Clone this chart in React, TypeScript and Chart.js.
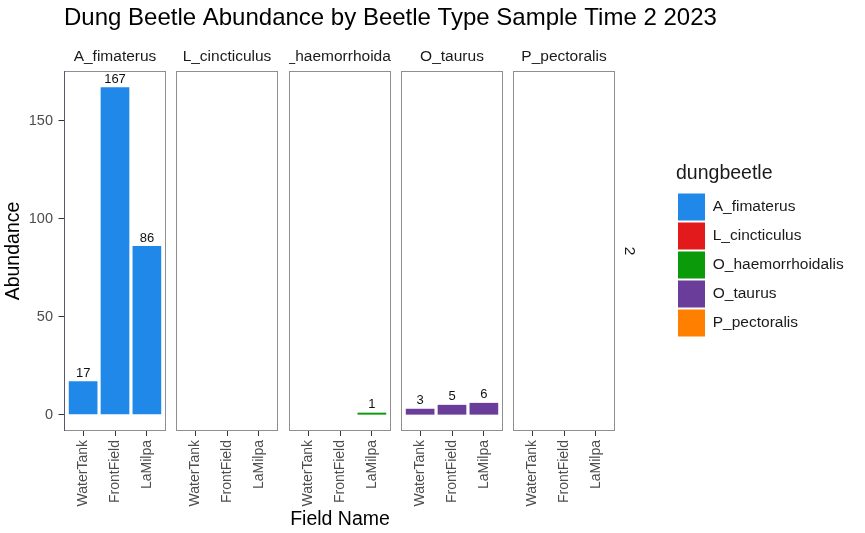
import React, { useEffect, useRef } from 'react';
import { Chart, registerables } from 'chart.js';

Chart.register(...registerables);

// ---------- data ----------
const chartTitle = 'Dung Beetle Abundance by Beetle Type Sample Time 2 2023';
const fieldNames = ['WaterTank', 'FrontField', 'LaMilpa'];
const species = ['A_fimaterus', 'L_cincticulus', 'O_haemorrhoidalis', 'O_taurus', 'P_pectoralis'];
const speciesColors = ['#1F88E8', '#E31A1C', '#0A9A0A', '#6A3D9A', '#FF7F00'];
const aFimaterus = [17, 167, 86];
const lCincticulus = [null, null, null];
const oHaemorrhoidalis = [null, null, 1];
const oTaurus = [3, 5, 6];
const pPectoralis = [null, null, null];
const seriesValues = [aFimaterus, lCincticulus, oHaemorrhoidalis, oTaurus, pPectoralis];
const yTicks = [0, 50, 100, 150];
const yMin = -8.35;
const yMax = 175.35;
const rowStripLabel = '2';
const xTitle = 'Field Name';
const yTitle = 'Abundance';
const legendTitle = 'dungbeetle';

// ---------- layout ----------
const FONT = "'Liberation Sans', Arial, Helvetica, sans-serif";
const W = 865;
const H = 533;
const CANVAS_TOP = 40;
const PANEL_TOP = 71;
const PANEL_BOTTOM = 431;
const PANEL_W = 102;
const X_AXIS_H = H - PANEL_BOTTOM;
const panelLeft = (k: number) => 64 + Math.round(112.25 * k);

Chart.defaults.font.family = FONT;

function makePanelPlugin(k: number, last: boolean) {
  return {
    id: 'facetPanel' + k,
    afterDatasetsDraw(chart: any) {
      const { ctx, chartArea: a } = chart;
      ctx.save();
      // panel border
      ctx.strokeStyle = '#8f8f8f';
      ctx.lineWidth = 1;
      ctx.strokeRect(a.left + 0.5, a.top + 0.5, a.right - a.left - 1, a.bottom - a.top - 1);
      if (k === 0) {
        ctx.strokeStyle = '#5a5670';
        ctx.beginPath();
        ctx.moveTo(a.left + 0.5, a.top);
        ctx.lineTo(a.left + 0.5, a.bottom);
        ctx.stroke();
      }
      // bar value labels
      const ds = chart.data.datasets[0];
      const meta = chart.getDatasetMeta(0);
      ctx.fillStyle = '#111111';
      ctx.font = `13px ${FONT}`;
      ctx.textAlign = 'center';
      ctx.textBaseline = 'alphabetic';
      meta.data.forEach((el: any, i: number) => {
        const p = ds.data[i];
        if (p && p.y !== null && p.y !== undefined) {
          ctx.fillText(String(p.y), el.x, el.y - 4.5);
        }
      });
      // strip label (clipped to panel width)
      ctx.beginPath();
      ctx.rect(a.left, 0, a.right - a.left, a.top);
      ctx.clip();
      ctx.fillStyle = '#1a1a1a';
      ctx.font = `15.5px ${FONT}`;
      ctx.textAlign = 'center';
      ctx.textBaseline = 'middle';
      ctx.fillText(species[k], (a.left + a.right) / 2, a.top - 14);
      ctx.restore();
      if (last) {
        ctx.save();
        ctx.translate(a.right + 14, (a.top + a.bottom) / 2);
        ctx.rotate(Math.PI / 2);
        ctx.fillStyle = '#1a1a1a';
        ctx.font = `15.5px ${FONT}`;
        ctx.textAlign = 'center';
        ctx.textBaseline = 'middle';
        ctx.fillText(rowStripLabel, 0, 0);
        ctx.restore();
      }
    },
  };
}

function Panel({ k }: { k: number }) {
  const ref = useRef<HTMLCanvasElement | null>(null);
  const first = k === 0;
  const last = k === species.length - 1;
  const axisW = first ? panelLeft(0) : 0;
  const rightExtra = last ? 34 : 0;
  const left = panelLeft(k) - axisW;
  const width = axisW + PANEL_W + rightExtra;
  const height = H - CANVAS_TOP;

  useEffect(() => {
    if (!ref.current) return;
    const values = seriesValues[k];
    const data = values
      .map((v, i) => ({ x: i + 1, y: v }))
      .filter((p) => p.y !== null);
    const chart = new Chart(ref.current, {
      type: 'bar',
      data: {
        datasets: [
          {
            label: species[k],
            data: data as any,
            backgroundColor: speciesColors[k],
            borderWidth: 0,
            barPercentage: 0.9,
            categoryPercentage: 1,
          },
        ],
      },
      options: {
        responsive: false,
        animation: false,
        layout: { padding: { top: PANEL_TOP - CANVAS_TOP, right: rightExtra, left: 0, bottom: 0 } },
        plugins: {
          legend: { display: false },
          tooltip: { enabled: false },
          title: { display: false },
        },
        scales: {
          x: {
            type: 'linear',
            min: 0.4,
            max: 3.6,
            offset: false,
            afterBuildTicks: (s: any) => {
              s.ticks = fieldNames.map((_, i) => ({ value: i + 1 }));
            },
            afterFit: (s: any) => {
              s.height = X_AXIS_H;
              s.paddingLeft = 0;
              s.paddingRight = 0;
            },
            ticks: {
              autoSkip: false,
              minRotation: 90,
              maxRotation: 90,
              padding: 4,
              color: '#4d4d4d',
              font: { size: 14 },
              callback: (v: any) => fieldNames[Number(v) - 1] ?? '',
            },
            grid: {
              display: true,
              offset: false,
              drawOnChartArea: false,
              drawTicks: true,
              tickLength: 5,
              color: '#333333',
              lineWidth: 1,
            },
            border: { display: false },
            title: {
              display: k === 2,
              text: xTitle,
              color: '#000000',
              font: { size: 19.5 },
              padding: { top: 0, bottom: 1.5 },
            },
          },
          y: {
            type: 'linear',
            display: first,
            min: yMin,
            max: yMax,
            afterBuildTicks: (s: any) => {
              s.ticks = yTicks.map((v) => ({ value: v }));
            },
            afterFit: (s: any) => {
              s.width = axisW;
              s.paddingTop = 0;
              s.paddingBottom = 0;
            },
            ticks: { color: '#4d4d4d', font: { size: 14.5 }, padding: 5.5 },
            grid: {
              display: true,
              offset: false,
              drawOnChartArea: false,
              drawTicks: true,
              tickLength: 5.5,
              color: '#333333',
              lineWidth: 1,
            },
            border: { display: false },
            title: {
              display: true,
              text: yTitle,
              color: '#000000',
              font: { size: 19.5 },
              padding: { top: 2, bottom: 0 },
            },
          },
        },
      } as any,
      plugins: [makePanelPlugin(k, last)],
    });
    return () => chart.destroy();
  }, []);

  return (
    <canvas
      ref={ref}
      width={width}
      height={height}
      style={{ position: 'absolute', left, top: CANVAS_TOP, width, height, display: 'block' }}
    />
  );
}

function TitleChart() {
  const ref = useRef<HTMLCanvasElement | null>(null);
  useEffect(() => {
    if (!ref.current) return;
    const chart = new Chart(ref.current, {
      type: 'bar',
      data: { labels: [], datasets: [] },
      options: {
        responsive: false,
        animation: false,
        layout: { padding: { left: 64, top: 0 } },
        scales: { x: { display: false }, y: { display: false } },
        plugins: {
          legend: { display: false },
          tooltip: { enabled: false },
          title: {
            display: true,
            text: chartTitle,
            align: 'start',
            color: '#000000',
            font: { size: 24, weight: 'normal' },
            padding: { top: 4, bottom: 4 },
          },
        },
      } as any,
    });
    return () => chart.destroy();
  }, []);
  return (
    <canvas
      ref={ref}
      width={W}
      height={CANVAS_TOP}
      style={{ position: 'absolute', left: 0, top: 0, width: W, height: CANVAS_TOP, display: 'block' }}
    />
  );
}

function LegendChart() {
  const ref = useRef<HTMLCanvasElement | null>(null);
  const left = 675;
  const top = 160;
  const width = W - left;
  const height = 200;
  useEffect(() => {
    if (!ref.current) return;
    const chart = new Chart(ref.current, {
      type: 'bar',
      data: {
        labels: [],
        datasets: species.map((s, i) => ({
          label: s,
          data: [],
          backgroundColor: speciesColors[i],
          borderWidth: 0,
        })),
      },
      options: {
        responsive: false,
        animation: false,
        layout: { padding: { left: 1, top: 4 } },
        scales: { x: { display: false }, y: { display: false } },
        plugins: {
          tooltip: { enabled: false },
          legend: {
            display: true,
            position: 'left',
            align: 'start',
            maxWidth: width,
            title: {
              display: true,
              text: legendTitle,
              color: '#1a1a1a',
              position: 'start',
              font: { size: 19.5 },
              padding: { top: 0, bottom: 4 },
            },
            labels: {
              boxWidth: 27,
              boxHeight: 27,
              padding: 2,
              color: '#1a1a1a',
              font: { size: 15.5 },
            },
          },
        },
      } as any,
    });
    return () => chart.destroy();
  }, []);
  return (
    <canvas
      ref={ref}
      width={width}
      height={height}
      style={{ position: 'absolute', left, top, width, height, display: 'block' }}
    />
  );
}

export default function App() {
  return (
    <div style={{ position: 'absolute', left: 0, top: 0, width: W, height: H, background: '#ffffff', overflow: 'hidden' }}>
      <TitleChart />
      {species.map((_, k) => (
        <Panel key={k} k={k} />
      ))}
      <LegendChart />
    </div>
  );
}
